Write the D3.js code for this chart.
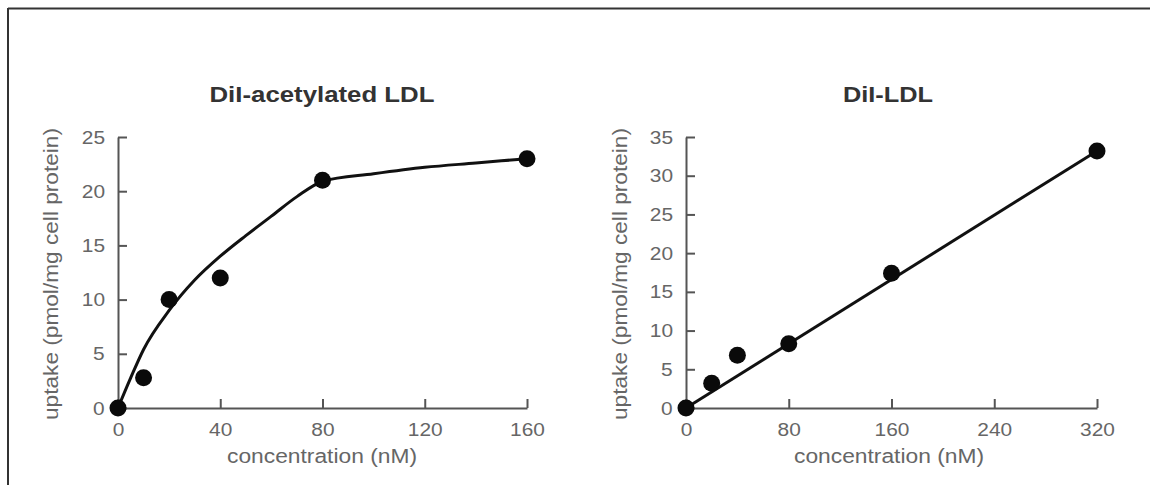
<!DOCTYPE html>
<html>
<head>
<meta charset="utf-8">
<script src="https://cdn.jsdelivr.net/npm/d3@7"></script>
<style>
  html, body { margin: 0; padding: 0; background: #fff; }
  svg { display: block; font-family: "Liberation Sans", Arial, Helvetica, sans-serif; }
  .stretch { transform-box: fill-box; transform-origin: center; transform: scaleX(1.1); }
</style>
</head>
<body>
<svg id="chart" width="1150" height="485"></svg>
<script>
// ---- Data ----
// Left panel: DiI-acetylated LDL
const leftTitle = "DiI-acetylated LDL";
const leftX = [0, 10, 20, 40, 80, 160];
const leftY = [0, 2.8, 10.0, 12.0, 21.0, 23.0];
const leftFitX = [0, 5, 10, 20, 30, 40, 50, 60, 70, 80, 100, 120, 140, 160];
const leftFitY = [0, 2.8, 5.4, 9.0, 11.8, 14.0, 15.9, 17.7, 19.5, 20.9, 21.6, 22.2, 22.6, 23.0];
const leftXTicks = [0, 40, 80, 120, 160];
const leftYTicks = [0, 5, 10, 15, 20, 25];

// Right panel: DiI-LDL
const rightTitle = "DiI-LDL";
const rightX = [0, 20, 40, 80, 160, 320];
const rightY = [0, 3.2, 6.8, 8.3, 17.4, 33.2];
const rightFitX = [0, 320];
const rightFitY = [0, 33.2];
const rightXTicks = [0, 80, 160, 240, 320];
const rightYTicks = [0, 5, 10, 15, 20, 25, 30, 35];

const xLabel = "concentration (nM)";
const yLabel = "uptake (pmol/mg cell protein)";

const svg = d3.select("#chart");

// frame (top and left edges)
svg.append("line").attr("x1", 8).attr("y1", 8.5).attr("x2", 1150).attr("y2", 8.5)
  .attr("stroke", "#333").attr("stroke-width", 2);
svg.append("line").attr("x1", 8).attr("y1", 8).attr("x2", 8).attr("y2", 485)
  .attr("stroke", "#333").attr("stroke-width", 2);

function panel(cfg) {
  const x = d3.scaleLinear().domain(cfg.xDomain).range(cfg.xRange);
  const y = d3.scaleLinear().domain(cfg.yDomain).range([408, 137]);
  const g = svg.append("g");

  const yAxis = d3.axisLeft(y).tickValues(cfg.yTicks).tickSizeInner(-9).tickSizeOuter(0).tickPadding(14);
  const xAxis = d3.axisBottom(x).tickValues(cfg.xTicks).tickSizeInner(-9).tickSizeOuter(0).tickPadding(15);

  const ya = g.append("g").attr("transform", `translate(${x(0)},0)`).call(yAxis);
  const xa = g.append("g").attr("transform", `translate(0,${y(0)})`).call(xAxis);
  [ya, xa].forEach(a => {
    a.select(".domain").attr("stroke", "#555").attr("stroke-width", 2);
    a.selectAll(".tick line").attr("stroke", "#555").attr("stroke-width", 2);
    a.selectAll(".tick text").attr("fill", "#666").attr("font-size", 19)
      .attr("font-family", "Liberation Sans, Arial, sans-serif").attr("class", "stretch");
  });

  // fitted curve
  const pts = cfg.fitX.map((d, i) => [d, cfg.fitY[i]]);
  g.append("path").datum(pts)
    .attr("fill", "none").attr("stroke", "#111").attr("stroke-width", 3)
    .attr("d", d3.line().x(d => x(d[0])).y(d => y(d[1])).curve(d3.curveMonotoneX));

  // data points
  g.selectAll("circle.pt").data(cfg.dx.map((d, i) => [d, cfg.dy[i]])).enter()
    .append("circle").attr("class", "pt")
    .attr("cx", d => x(d[0])).attr("cy", d => y(d[1])).attr("r", 8.5).attr("fill", "#0a0a0a");

  const cx = (x.range()[0] + x.range()[1]) / 2 + cfg.dxLabel;
  // title
  g.append("text").attr("x", cfg.titleX).attr("y", 102).attr("text-anchor", "middle")
    .attr("font-weight", "bold").attr("font-size", 22).attr("fill", "#333")
    .attr("textLength", cfg.titleLen).attr("lengthAdjust", "spacingAndGlyphs")
    .text(cfg.title);
  // x label
  g.append("text").attr("x", cfg.xLabelX).attr("y", 463).attr("text-anchor", "middle")
    .attr("font-size", 20).attr("fill", "#666")
    .attr("textLength", 190).attr("lengthAdjust", "spacingAndGlyphs")
    .text(xLabel);
  // y label
  g.append("text").attr("transform", `translate(${cfg.yLabelX},274) rotate(-90)`)
    .attr("text-anchor", "middle").attr("font-size", 21).attr("fill", "#666")
    .attr("textLength", 292).attr("lengthAdjust", "spacingAndGlyphs")
    .text(yLabel);
}

panel({
  xDomain: [0, 160], xRange: [118, 527], yDomain: [0, 25],
  xTicks: leftXTicks, yTicks: leftYTicks,
  dx: leftX, dy: leftY, fitX: leftFitX, fitY: leftFitY,
  title: leftTitle, titleX: 322, titleLen: 225, xLabelX: 322, yLabelX: 58, dxLabel: 0
});
panel({
  xDomain: [0, 320], xRange: [686, 1097], yDomain: [0, 35],
  xTicks: rightXTicks, yTicks: rightYTicks,
  dx: rightX, dy: rightY, fitX: rightFitX, fitY: rightFitY,
  title: rightTitle, titleX: 888, titleLen: 90, xLabelX: 889, yLabelX: 627, dxLabel: 0
});
</script>
</body>
</html>
